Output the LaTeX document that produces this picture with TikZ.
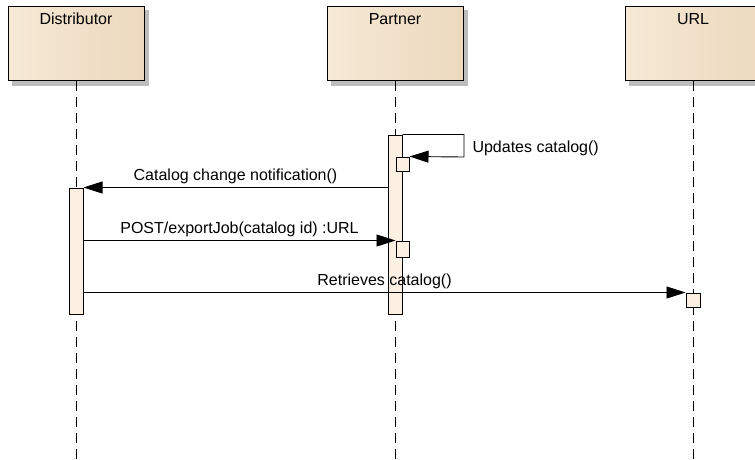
\documentclass[tikz,border=0pt]{standalone}
\usepackage{fontspec}
\setmainfont{Liberation Sans}
\usetikzlibrary{arrows.meta,positioning}
\definecolor{headL}{HTML}{F6E9D6}
\definecolor{headM}{HTML}{FBF2E6}
\definecolor{headR}{HTML}{ECD9BE}
\definecolor{actfill}{HTML}{FBF0E1}
\definecolor{headgray}{HTML}{BDBDBD}
\tikzset{
  head/.style={draw=black,line width=1pt,minimum width=136pt,minimum height=74pt,
    inner sep=0pt,left color=headL,middle color=headM,right color=headR},
  life/.style={line width=0.9pt,dash pattern=on 10pt off 6pt},
  act/.style={draw=black,line width=1pt,fill=actfill,inner sep=0pt,minimum width=14pt},
  msg/.style={line width=0.9pt,-{Triangle[length=19pt,width=12pt]}},
  lbl/.style={font=\fontsize{16}{19}\selectfont}
}
\begin{document}
\begin{tikzpicture}[x=1pt,y=-1pt]
  \useasboundingbox (0,0) rectangle (755,459);
  %% Shadows of the heads
  \fill[headgray] (12,10) rectangle (149,86);
  \fill[headgray] (331,10) rectangle (468,86);
  \fill[headgray] (629,10) rectangle (766,86);
  %% Lifeline heads
  \node[head] (dist) at (76,43) {};
  \node[head] (part) at (395,43) {};
  \node[head] (url) at (693,43) {};
  \node[lbl,anchor=base] (distT) at ([yshift=-19pt]dist.north) {Distributor};
  \node[lbl,anchor=base] (partT) at ([yshift=-19pt]part.north) {Partner};
  \node[lbl,anchor=base] (urlT) at ([yshift=-19pt]url.north) {URL};
  %% Lifelines
  \coordinate (distEnd) at (76,459);
  \coordinate (partEnd) at (395,459);
  \coordinate (urlEnd) at (693,459);
  \draw[life] (dist.south) -- (distEnd);
  \draw[life] (part.south) -- (partEnd);
  \draw[life] (url.south) -- (urlEnd);
  %% Activations
  \node[act,minimum height=126pt] (distAct) at (76,251) {};
  \node[act,minimum height=179pt] (partAct) at (395,224.5) {};
  \node[act,minimum width=13pt,minimum height=14pt] (updBox) at (402.5,164) {};
  \node[act,minimum width=13pt,minimum height=16pt] (postBox) at (402.5,249) {};
  \node[act,minimum height=14pt] (urlBox) at (693,300) {};
  %% Messages
  \coordinate (loop) at (464,157);
  \draw[msg] (partAct.north east) -| (loop) -- (updBox.north east);
  \node[lbl,anchor=base west] (updT) at (469,152) {Updates catalog()};
  \draw[msg] (distAct.north east -| partAct.west) -- (distAct.north east)
    node[lbl,midway,above] (chgT) {Catalog change notification()};
  \draw[msg] (distAct.east |- postBox.north) -- (postBox.north west)
    node[lbl,midway,above] (postT) {POST/exportJob(catalog id) :URL};
  \draw[msg] (distAct.east |- urlBox.north) -- (urlBox.north west)
    node[lbl,midway,above] (getT) {Retrieves catalog()};
\end{tikzpicture}
\end{document}
